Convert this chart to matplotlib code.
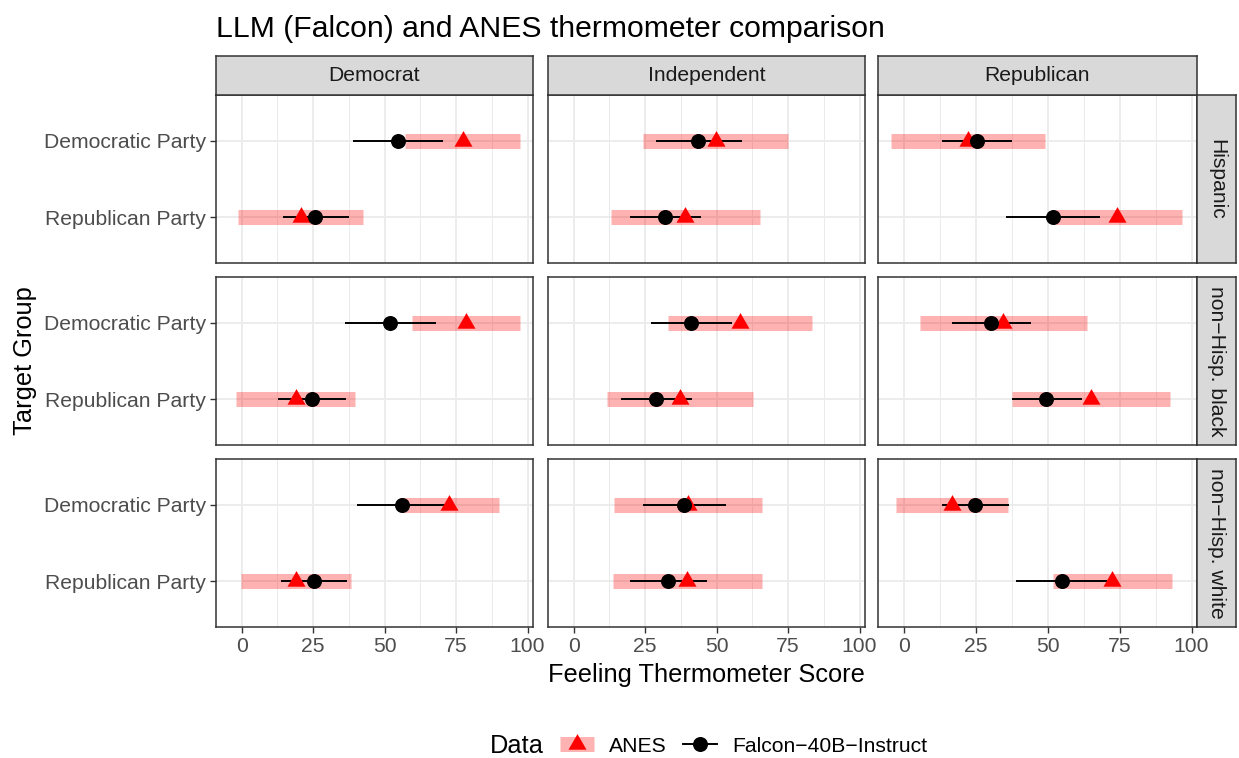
import numpy as np
import matplotlib.pyplot as plt
from matplotlib.lines import Line2D
from matplotlib.legend_handler import HandlerTuple

plt.rcParams['font.family'] = ['Liberation Sans', 'DejaVu Sans']

# facets: columns = respondent party, rows = respondent ethnicity
resp_party = ["Democrat", "Independent", "Republican"]
ethnicity = ["Hispanic", "non\u2212Hisp. black", "non\u2212Hisp. white"]
targets = ["Democratic Party", "Republican Party"]

# ANES mean and sd, [row][col][target]
anes_mean = [
    [[77.3, 20.6], [49.6, 39.1], [22.4, 74.2]],
    [[78.4, 18.9], [58.2, 37.1], [34.6, 65.1]],
    [[72.6, 19.0], [40.0, 39.8], [16.7, 72.5]],
]
anes_sd = [
    [[20.1, 21.8], [25.2, 25.9], [26.8, 22.5]],
    [[18.8, 20.9], [25.2, 25.6], [29.0, 27.4]],
    [[17.5, 19.2], [26.0, 26.2], [19.6, 20.6]],
]

# Falcon-40B-Instruct mean, lower, upper
falcon_mean = [
    [[54.8, 25.8], [43.6, 32.0], [25.3, 51.7]],
    [[52.0, 24.7], [41.0, 28.7], [30.3, 49.5]],
    [[55.9, 25.2], [38.6, 33.0], [24.6, 54.8]],
]
falcon_lo = [
    [[39.1, 14.3], [28.9, 19.7], [13.2, 35.5]],
    [[36.3, 12.8], [27.2, 16.5], [16.7, 37.5]],
    [[40.5, 13.7], [24.3, 19.7], [13.1, 38.9]],
]
falcon_hi = [
    [[70.5, 37.7], [58.7, 44.7], [37.7, 68.1]],
    [[67.9, 36.5], [55.2, 41.4], [44.3, 61.8]],
    [[72.5, 36.8], [53.2, 46.6], [36.6, 70.7]],
]

W, H = 1239, 758
fig = plt.figure(figsize=(W / 100, H / 100), dpi=100)


def box(l, t, r, b):
    return [l / W, 1 - b / H, (r - l) / W, (b - t) / H]


cols = [(216, 533), (548, 865), (878, 1197)]
rows = [(95, 263), (277, 445), (459, 627)]
tri = [(0, 0.577), (-0.5, -0.289), (0.5, -0.289)]
dark = '#333333'
band_lw = 10.8
line_lw = 1.4
tick_fs = 15.2

for i in range(3):
    for j in range(3):
        ax = fig.add_axes(box(cols[j][0], rows[i][0], cols[j][1], rows[i][1]))
        ax.set_xlim(-9.0, 101.9)
        ax.set_ylim(0.4, 2.6)
        ax.set_xticks([0, 25, 50, 75, 100])
        ax.set_xticks([12.5, 37.5, 62.5, 87.5], minor=True)
        ax.set_yticks([2, 1])
        ax.grid(which='major', color='#EBEBEB', lw=1.3, zorder=0)
        ax.grid(which='minor', axis='x', color='#EBEBEB', lw=0.7, zorder=0)
        ax.set_axisbelow(True)
        for s in ax.spines.values():
            s.set_color(dark)
            s.set_linewidth(1.1)
            s.set_zorder(10)
        ax.tick_params(which='minor', length=0)
        ax.tick_params(which='major', length=4.0, width=1.0, color=dark,
                       labelcolor='#4D4D4D', labelsize=tick_fs, pad=3)
        if i == 2:
            ax.set_xticklabels(['0', '25', '50', '75', '100'])
        else:
            ax.tick_params(axis='x', length=0, labelbottom=False)
        if j == 0:
            ax.set_yticklabels(targets)
        else:
            ax.tick_params(axis='y', length=0, labelleft=False)

        ypos = [2, 1]
        for k in range(2):
            m, sd = anes_mean[i][j][k], anes_sd[i][j][k]
            ax.plot([m - sd, m + sd], [ypos[k], ypos[k]], color='red', alpha=0.3,
                    lw=band_lw, solid_capstyle='butt', zorder=2)
            ax.plot([falcon_lo[i][j][k], falcon_hi[i][j][k]], [ypos[k], ypos[k]],
                    color='black', lw=line_lw, solid_capstyle='butt', zorder=3)
        ax.plot(anes_mean[i][j], ypos, ls='none', marker=tri, ms=15,
                color='red', mec='none', zorder=4)
        ax.plot(falcon_mean[i][j], ypos, ls='none', marker='o', ms=10.8,
                color='black', mec='none', zorder=5)

# strips
for j in range(3):
    sa = fig.add_axes(box(cols[j][0], 56, cols[j][1], 95))
    sa.set_facecolor('#D9D9D9')
    sa.set_xticks([]); sa.set_yticks([])
    for s in sa.spines.values():
        s.set_color(dark); s.set_linewidth(1.1)
    sa.text(0.5, 0.5, resp_party[j], ha='center', va='center',
            fontsize=tick_fs, color='#1A1A1A', transform=sa.transAxes)
for i in range(3):
    sa = fig.add_axes(box(1197, rows[i][0], 1236, rows[i][1]))
    sa.set_facecolor('#D9D9D9')
    sa.set_xticks([]); sa.set_yticks([])
    for s in sa.spines.values():
        s.set_color(dark); s.set_linewidth(1.1)
    sa.text(0.5, 0.5, ethnicity[i], ha='center', va='center', rotation=-90,
            fontsize=tick_fs, color='#1A1A1A', transform=sa.transAxes)

fig.text(216 / W, 1 - 37 / H, "LLM (Falcon) and ANES thermometer comparison",
         ha='left', va='baseline', fontsize=21.7, color='black')
fig.text(706 / W, 1 - 675 / H, "Feeling Thermometer Score",
         ha='center', va='center', fontsize=18.3, color='black')
fig.text(25 / W, 1 - 361 / H, "Target Group", rotation=90,
         ha='center', va='center', fontsize=18.3, color='black')

# legend
fig.text(490 / W, 1 - 746 / H, "Data", ha='left', va='center', fontsize=18.3)
h_anes = (Line2D([], [], color='red', alpha=0.3, lw=band_lw, solid_capstyle='butt'),
          Line2D([], [], ls='none', marker=tri, ms=15, color='red', mec='none'))
h_falcon = Line2D([], [], color='black', lw=line_lw, marker='o', ms=10.8, mec='none')
fig.legend([h_anes, h_falcon], ["ANES", "Falcon\u221240B\u2212Instruct"],
           handler_map={tuple: HandlerTuple(ndivide=1)},
           ncol=2, loc='center left', bbox_to_anchor=(560 / W, 1 - 746 / H),
           frameon=False, fontsize=tick_fs, handlelength=1.6,
           handletextpad=0.7, columnspacing=0.8, borderpad=0, borderaxespad=0)

plt.savefig("out.png", dpi=100)
